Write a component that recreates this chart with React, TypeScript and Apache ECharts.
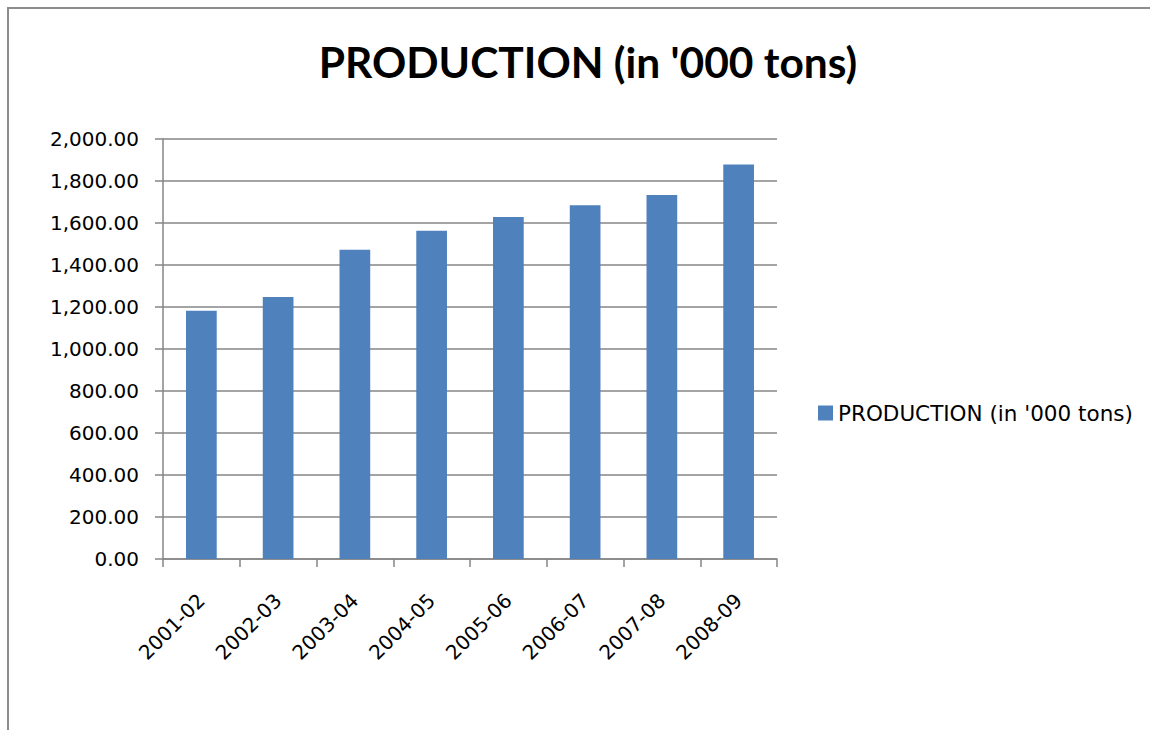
import React, { useEffect, useRef } from "react";
import * as echarts from "echarts";

const categories = ["2001-02", "2002-03", "2003-04", "2004-05", "2005-06", "2006-07", "2007-08", "2008-09"];
const production = [1182, 1248, 1473, 1563, 1629, 1684, 1733, 1878];
const seriesName = "PRODUCTION (in '000 tons)";
const titleText = "PRODUCTION (in '000 tons)";

const TITLE_FONT = "Lato, 'Open Sans', sans-serif";
const FONT = "'DejaVu Sans', sans-serif";
const BAR = "#4f81bd";
const GRID = "#868686";

export default function App() {
  const ref = useRef<HTMLDivElement>(null);

  useEffect(() => {
    if (!ref.current) return;
    const chart = echarts.init(ref.current, undefined, { renderer: "svg" });
    chart.setOption({
      animation: false,
      backgroundColor: "#ffffff",
      title: {
        text: titleText,
        left: 583,
        top: 35,
        textAlign: "center",
        textStyle: { fontFamily: TITLE_FONT, fontWeight: "bold", fontSize: 42.5, color: "#000" },
      },
      legend: {
        data: [seriesName],
        left: 813,
        top: 397,
        orient: "vertical",
        icon: "rect",
        itemWidth: 15,
        itemHeight: 15,
        itemGap: 8,
        textStyle: { fontFamily: FONT, fontSize: 21.5, color: "#000" },
      },
      grid: { left: 163, right: 373, top: 139, bottom: 171, containLabel: false },
      xAxis: {
        type: "category",
        data: categories,
        axisLine: { lineStyle: { color: GRID, width: 1.5 } },
        axisTick: { show: true, alignWithLabel: false, length: 8, lineStyle: { color: GRID, width: 1.5 } },
        axisLabel: {
          rotate: 45,
          margin: 38,
          fontFamily: FONT,
          fontSize: 20,
          color: "#000",
        },
      },
      yAxis: {
        type: "value",
        min: 0,
        max: 2000,
        interval: 200,
        axisLine: { show: true, lineStyle: { color: GRID, width: 1.5 } },
        axisTick: { show: true, length: 8, lineStyle: { color: GRID, width: 1.5 } },
        splitLine: { lineStyle: { color: GRID, width: 1.5 } },
        axisLabel: {
          margin: 24,
          fontFamily: FONT,
          fontSize: 20,
          color: "#000",
          formatter: (v: number) =>
            v.toLocaleString("en-US", { minimumFractionDigits: 2, maximumFractionDigits: 2 }),
        },
      },
      series: [
        {
          name: seriesName,
          type: "bar",
          data: production,
          barCategoryGap: "60%",
          itemStyle: { color: BAR },
        },
      ],
      graphic: [
        {
          type: "polyline",
          shape: { points: [[8, 730], [8, 8], [1150, 8]] },
          style: { stroke: "#8c8c8c", lineWidth: 2, fill: "none" },
          silent: true,
        },
      ],
    });
    return () => chart.dispose();
  }, []);

  return <div ref={ref} style={{ width: 1150, height: 730, position: "absolute", left: 0, top: 0 }} />;
}
